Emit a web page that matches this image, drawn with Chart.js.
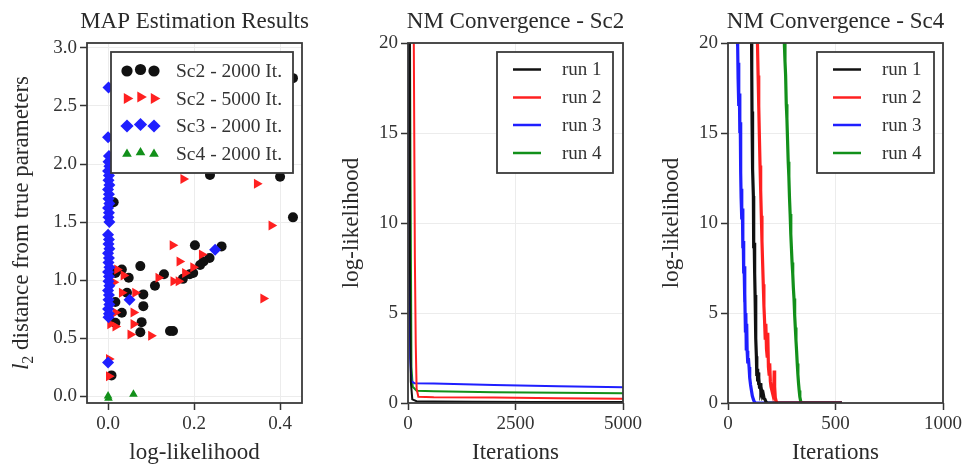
<!DOCTYPE html>
<html>
<head>
<meta charset="utf-8">
<script src="https://cdn.jsdelivr.net/npm/chart.js@4.4.1/dist/chart.umd.min.js"></script>
<style>
  body { margin: 0; background: #fff; width: 967px; height: 470px; position: relative; overflow: hidden; }
  canvas { position: absolute; top: 0; }
</style>
</head>
<body>
<canvas id="mapChart" width="330" height="470" style="left:0"></canvas>
<canvas id="sc2Chart" width="320" height="470" style="left:330px"></canvas>
<canvas id="sc4Chart" width="317" height="470" style="left:650px"></canvas>
<script>
// MAP estimates: x = log-likelihood, y = l2 distance from true parameters
const sc2It2000X = [0.43, 0.237, 0.40, 0.43, 0.013, 0.202, 0.264, 0.236, 0.222, 0.214, 0.198, 0.19, 0.174, 0.130, 0.109, 0.075, 0.048, 0.032, 0.017, 0.044, 0.082, 0.082, 0.078, 0.075, 0.032, 0.017, 0.017, 0.144, 0.151, 0.008];
const sc2It2000Y = [2.74, 1.905, 1.89, 1.54, 1.67, 1.30, 1.29, 1.19, 1.16, 1.13, 1.06, 1.05, 1.01, 1.05, 0.95, 1.12, 1.02, 1.09, 1.06, 0.89, 0.876, 0.775, 0.637, 0.55, 0.718, 0.632, 0.81, 0.56, 0.56, 0.178];
const sc2It5000X = [0.175, 0.346, 0.38, 0.150, 0.166, 0.218, 0.198, 0.179, 0.152, 0.164, 0.117, 0.361, 0.021, 0.036, 0.013, 0.032, 0.063, 0.017, 0.059, 0.059, 0.052, 0.100, 0.005, 0.005, 0.002, 0.002, 0.017];
const sc2It5000Y = [1.87, 1.83, 1.47, 1.30, 1.16, 1.22, 1.11, 1.06, 0.99, 0.99, 1.02, 0.84, 1.09, 1.04, 0.98, 0.89, 0.89, 0.72, 0.72, 0.62, 0.53, 0.52, 0.70, 0.62, 0.32, 0.17, 0.60];
const sc3It2000X = [0.001, 0.0, 0.002, 0.001, 0.003, 0.0, 0.002, 0.001, 0.003, 0.0, 0.002, 0.001, 0.003, 0.0, 0.002, 0.001, 0.003, 0.0, 0.002, 0.001, 0.003, 0.0, 0.002, 0.001, 0.003, 0.0, 0.002, 0.001, 0.003, 0.0, 0.002, 0.001, 0.003, 0.0, 0.002, 0.001, 0.0, 0.050, 0.249];
const sc3It2000Y = [2.66, 2.23, 2.07, 2.02, 1.98, 1.94, 1.90, 1.86, 1.82, 1.78, 1.74, 1.70, 1.66, 1.62, 1.58, 1.54, 1.50, 1.39, 1.35, 1.31, 1.27, 1.23, 1.19, 1.15, 1.11, 1.07, 1.03, 0.99, 0.95, 0.91, 0.87, 0.83, 0.79, 0.75, 0.71, 0.68, 0.29, 0.83, 1.26];
const sc4It2000X = [0.0, 0.001, 0.059];
const sc4It2000Y = [0.0, -0.02, 0.015];
const mapXTicks = [0, 0.2, 0.4];
const mapYTicks = [0, 0.5, 1, 1.5, 2, 2.5, 3];

// Nelder-Mead traces, scenario 2 (5000 iterations)
const sc2Run1Iter = [0, 25, 45, 65, 100, 200, 600, 1500, 3000, 5000];
const sc2Run1LL = [40, 22, 8, 1.2, 0.2, 0.1, 0.08, 0.07, 0.06, 0.05];
const sc2Run2Iter = [0, 110, 135, 160, 180, 200, 240, 600, 2000, 3500, 5000];
const sc2Run2LL = [40, 30, 20, 8, 3.3, 0.8, 0.35, 0.32, 0.3, 0.27, 0.24];
const sc2Run3Iter = [0, 15, 30, 50, 80, 150, 600, 2000, 3500, 5000];
const sc2Run3LL = [40, 25, 10, 2.5, 1.2, 1.1, 1.08, 1.0, 0.93, 0.87];
const sc2Run4Iter = [0, 40, 60, 80, 110, 200, 600, 2000, 3500, 5000];
const sc2Run4LL = [40, 24, 12, 2.0, 0.9, 0.68, 0.65, 0.6, 0.57, 0.54];
const sc2XTicks = [0, 2500, 5000];

// Nelder-Mead traces, scenario 4 (first 1000 iterations)
const sc4Run1Iter = [108, 110, 111, 112, 113, 114, 116, 118, 119, 120, 122, 124, 126, 128, 130, 132, 134, 136, 138, 140, 142, 144, 147, 150, 153, 156, 160, 164, 168, 172, 176, 181, 530];
const sc4Run1LL = [23, 20, 18.5, 15.5, 16.2, 15.4, 13.0, 11.5, 10.2, 8.6, 8.9, 7.2, 6.0, 4.8, 3.6, 2.6, 1.5, 1.9, 1.2, 1.7, 1.0, 1.4, 0.8, 1.1, 0.6, 0.7, 0.4, 0.5, 0.25, 0.2, 0.08, 0, 0];
const sc4Run2Iter = [134, 137, 140, 143, 146, 149, 152, 155, 158, 161, 164, 167, 170, 173, 176, 179, 182, 185, 188, 191, 194, 197, 200, 204, 208, 212, 215, 217, 220, 224, 228, 530];
const sc4Run2LL = [23, 20, 18.2, 16.5, 14.8, 13.2, 11.8, 10.4, 9.0, 7.8, 6.6, 5.4, 4.6, 3.6, 4.4, 3.0, 2.6, 3.9, 2.0, 1.6, 2.2, 1.2, 0.9, 0.7, 0.5, 0.4, 1.8, 0.9, 0.3, 0.1, 0, 0];
const sc4Run3Iter = [38, 42, 45, 47, 49, 51, 53, 55, 57, 59, 61, 63, 65, 67, 69, 71, 73, 75, 77, 79, 81, 83, 85, 87, 89, 92, 95, 98, 101, 105, 109, 113, 118, 123, 128, 530];
const sc4Run3LL = [23, 20.5, 19.8, 18.0, 18.9, 16.5, 17.2, 15.0, 15.6, 12.8, 11.4, 11.9, 10.2, 10.8, 8.6, 9.0, 7.2, 7.6, 5.6, 6.1, 4.0, 5.0, 3.0, 4.4, 2.9, 2.2, 2.5, 2.0, 1.4, 1.0, 0.7, 0.4, 0.2, 0.05, 0, 0];
const sc4Run4Iter = [258, 262, 265, 268, 271, 274, 277, 280, 283, 286, 289, 292, 295, 298, 301, 304, 307, 310, 313, 316, 319, 322, 325, 328, 331, 334, 338, 343, 530];
const sc4Run4LL = [23, 20, 19.0, 18.2, 16.6, 15.8, 14.6, 13.4, 12.6, 11.4, 10.5, 9.4, 8.6, 7.8, 7.2, 6.4, 5.8, 4.9, 4.2, 3.5, 2.9, 2.2, 1.6, 1.1, 0.7, 0.35, 0.1, 0, 0];
const sc4XTicks = [0, 500, 1000];
const llTicks = [0, 5, 10, 15, 20];

const SERIF = '"Liberation Serif", "DejaVu Serif", serif';
const INK = '#333';
const RUN_COLORS = ['#111111', '#ff2020', '#1f1fff', '#12901a'];

function pts(xs, ys) {
  return xs.map((x, i) => ({ x: x, y: ys[i] }));
}

function axis(min, max, ticks, fmt, fit) {
  return {
    type: 'linear',
    min: min,
    max: max,
    afterBuildTicks: s => { s.ticks = ticks.map(v => ({ value: v })); },
    afterFit: fit,
    grid: { color: '#ececec', lineWidth: 1, tickColor: INK, tickWidth: 1.5, tickLength: 7 },
    border: { display: false },
    ticks: { color: INK, font: { family: SERIF, size: 19 }, padding: 3, maxRotation: 0, autoSkip: false, callback: fmt }
  };
}

// frame, titles and the boxed legend, drawn like the base R plots
const panelDecor = {
  id: 'panelDecor',
  afterDraw(chart, args, o) {
    const ctx = chart.ctx;
    const a = chart.chartArea;
    const cx = (a.left + a.right) / 2;
    const cy = (a.top + a.bottom) / 2;
    ctx.save();
    ctx.strokeStyle = '#3a3a3a';
    ctx.lineWidth = 1.8;
    ctx.strokeRect(a.left, a.top, a.right - a.left, a.bottom - a.top);

    ctx.fillStyle = '#2a2a2a';
    ctx.textAlign = 'center';
    ctx.textBaseline = 'alphabetic';
    ctx.font = '23px ' + SERIF;
    ctx.fillText(o.title, cx, 28);
    ctx.fillText(o.xTitle, cx, 459);

    // y title, rotated; optional italic l with subscript 2 in front
    ctx.save();
    ctx.translate(28, cy);
    ctx.rotate(-Math.PI / 2);
    ctx.textAlign = 'left';
    const rest = o.yTitle;
    ctx.font = '23px ' + SERIF;
    const wRest = ctx.measureText(rest).width;
    let wL = 0, wSub = 0;
    if (o.l2) {
      ctx.font = 'italic 23px ' + SERIF;
      wL = ctx.measureText('l').width;
      ctx.font = '16px ' + SERIF;
      wSub = ctx.measureText('2').width;
    }
    let x0 = -(wL + wSub + wRest) / 2;
    if (o.l2) {
      ctx.font = 'italic 23px ' + SERIF;
      ctx.fillText('l', x0, 0);
      ctx.font = '16px ' + SERIF;
      ctx.fillText('2', x0 + wL, 5);
      x0 += wL + wSub;
    }
    ctx.font = '23px ' + SERIF;
    ctx.fillText(rest, x0, 0);
    ctx.restore();

    // legend
    const lg = o.legend;
    ctx.fillStyle = '#fff';
    ctx.fillRect(lg.left, lg.top, lg.width, lg.height);
    ctx.strokeStyle = '#3a3a3a';
    ctx.lineWidth = 1.8;
    ctx.strokeRect(lg.left, lg.top, lg.width, lg.height);
    ctx.font = lg.fontSize + 'px ' + SERIF;
    ctx.textAlign = 'left';
    ctx.textBaseline = 'middle';
    chart.data.datasets.forEach((ds, i) => {
      const y = lg.rowY[i];
      if (lg.markers) {
        [0, 1, 2].forEach(k => {
          ctx.fillStyle = ds.backgroundColor;
          Chart.helpers.drawPoint(ctx, {
            pointStyle: ds.pointStyle,
            radius: ds.pointRadius + 0.6,
            rotation: ds.rotation || 0,
            borderWidth: 0
          }, lg.markX + k * lg.markGap, y - (k === 1 ? 1.5 : 0));
        });
      } else {
        ctx.strokeStyle = ds.borderColor;
        ctx.lineWidth = 2.5;
        ctx.beginPath();
        ctx.moveTo(lg.lineX0, y);
        ctx.lineTo(lg.lineX1, y);
        ctx.stroke();
      }
      ctx.fillStyle = INK;
      ctx.fillText(ds.label, lg.textX, y + 1);
    });
    ctx.restore();
  }
};

const fitY = w => s => { s.width = w; };
const fitX = s => { s.height = 67; };
const oneDec = v => v.toFixed(1);
const whole = v => String(v);

new Chart(document.getElementById('mapChart'), {
  type: 'scatter',
  data: {
    datasets: [
      { label: 'Sc2 - 2000 It.', data: pts(sc2It2000X, sc2It2000Y), pointStyle: 'circle', pointRadius: 5,
        backgroundColor: '#111111', borderWidth: 0, order: 4 },
      { label: 'Sc2 - 5000 It.', data: pts(sc2It5000X, sc2It5000Y), pointStyle: 'triangle', rotation: 90, pointRadius: 5.8,
        backgroundColor: '#ff2020', borderWidth: 0, order: 3 },
      { label: 'Sc3 - 2000 It.', data: pts(sc3It2000X, sc3It2000Y), pointStyle: 'rectRot', pointRadius: 6,
        backgroundColor: '#1f1fff', borderWidth: 0, order: 2 },
      { label: 'Sc4 - 2000 It.', data: pts(sc4It2000X, sc4It2000Y), pointStyle: 'triangle', pointRadius: 5,
        backgroundColor: '#12901a', borderWidth: 0, order: 1 }
    ]
  },
  options: {
    responsive: false,
    animation: false,
    layout: { padding: { top: 43, right: 28, bottom: 0, left: 0 } },
    scales: {
      x: axis(-0.049, 0.451, mapXTicks, oneDec, fitX),
      y: axis(-0.06, 3.043, mapYTicks, oneDec, fitY(87))
    },
    plugins: {
      legend: { display: false },
      tooltip: { enabled: false },
      panelDecor: {
        title: 'MAP Estimation Results',
        xTitle: 'log-likelihood',
        yTitle: ' distance from true parameters',
        l2: true,
        legend: { left: 111, top: 52, width: 182, height: 121, rowY: [71, 98.5, 126, 154], fontSize: 19.5,
                  markers: true, markX: 127, markGap: 13.5, textX: 176 }
      }
    }
  },
  plugins: [panelDecor]
});

function runSets(iters, lls, width) {
  return iters.map((it, i) => ({
    label: 'run ' + (i + 1),
    data: pts(it, lls[i]),
    borderColor: RUN_COLORS[i],
    borderWidth: width,
    pointRadius: 0,
    tension: 0,
    fill: false
  }));
}

function convergence(id, iters, lls, xMax, xTicks, title, width, boxW) {
  new Chart(document.getElementById(id), {
    type: 'line',
    data: { datasets: runSets(iters, lls, width) },
    options: {
      responsive: false,
      animation: false,
      layout: { padding: { top: 43, right: document.getElementById(id).width - 293, bottom: 0, left: 0 } },
      scales: {
        x: axis(0, xMax, xTicks, whole, fitX),
        y: axis(0, 20, llTicks, whole, fitY(78))
      },
      plugins: {
        legend: { display: false },
        tooltip: { enabled: false },
        panelDecor: {
          title: title,
          xTitle: 'Iterations',
          yTitle: 'log-likelihood',
          l2: false,
          legend: { left: 167, top: 52, width: boxW, height: 121, rowY: [69.5, 97.5, 125, 153], fontSize: 19,
                    markers: false, lineX0: 183, lineX1: 211, textX: 232 }
        }
      }
    },
    plugins: [panelDecor]
  });
}

convergence('sc2Chart',
  [sc2Run1Iter, sc2Run2Iter, sc2Run3Iter, sc2Run4Iter],
  [sc2Run1LL, sc2Run2LL, sc2Run3LL, sc2Run4LL],
  5000, sc2XTicks, 'NM Convergence - Sc2', 2, 116);

convergence('sc4Chart',
  [sc4Run1Iter, sc4Run2Iter, sc4Run3Iter, sc4Run4Iter],
  [sc4Run1LL, sc4Run2LL, sc4Run3LL, sc4Run4LL],
  1000, sc4XTicks, 'NM Convergence - Sc4', 3.2, 117);
</script>
</body>
</html>
